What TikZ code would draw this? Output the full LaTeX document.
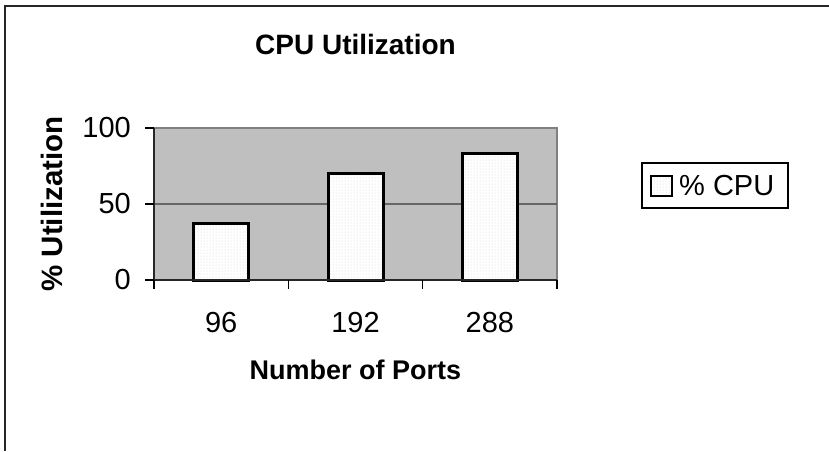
\documentclass[tikz,border=0pt]{standalone}
\usepackage{fontspec}
\setmainfont{Liberation Sans}
\usetikzlibrary{patterns}
\begin{document}
\begin{tikzpicture}[x=1pt,y=-1pt,
  txt/.style={font=\fontsize{29}{33}\selectfont,inner sep=0pt},
  boldtxt/.style={font=\fontsize{27}{31}\selectfont\bfseries,inner sep=0pt},
  barbox/.style={draw=black,line width=3pt,preaction={fill=white},pattern=dots,pattern color=gray!35}]
\useasboundingbox (0,0) rectangle (829,451);
% outer frame
\draw[line width=2pt,black!85] (5,451) -- (5,6) -- (829,6);
% plot area
\fill[black!25] (154,128) rectangle (557,280);
\draw[line width=2pt,black!50] (154,128) -- (557,128) -- (557,280);
\draw[line width=2pt,black!60] (154,204) -- (557,204);
\foreach \i/\v in {1/37,2/70,3/83}
  \draw[barbox] ({154+(\i-0.5)*134.33-27.5},280) rectangle ({154+(\i-0.5)*134.33+27.5},{280-\v*1.52});
\draw[line width=2pt,black!85] (154,128) -- (154,280) -- (557,280);
% ticks
\foreach \y/\t in {128/100,204/50,280/0} {
  \draw[line width=1.5pt] (145,\y) -- (154,\y);
  \node[txt,anchor=east] (ytick\t) at (131,\y) {\t};
}
\foreach \i in {0,1,2,3}
  \draw[line width=1.5pt] ({154+\i*134.33},280) -- ({154+\i*134.33},289);
\foreach \i/\t in {1/96,2/192,3/288}
  \node[txt] (xtick\t) at ({154+(\i-0.5)*134.33},323) {\t};
% titles
\node[boldtxt,font=\fontsize{28}{32}\selectfont\bfseries] (title) at (355.5,44) {CPU Utilization};
\node[boldtxt] (xlabel) at (355.5,370) {Number of Ports};
\node[boldtxt,font=\fontsize{29.5}{33}\selectfont\bfseries,rotate=90] (ylabel) at (52,204) {\% Utilization};
% legend
\draw[line width=1.5pt] (642,163) rectangle (788,208);
\draw[barbox,line width=2.5pt] (651,176) rectangle (672,196);
\node[txt,anchor=west] (legtext) at (679,186) {\% CPU};
\end{tikzpicture}
\end{document}
